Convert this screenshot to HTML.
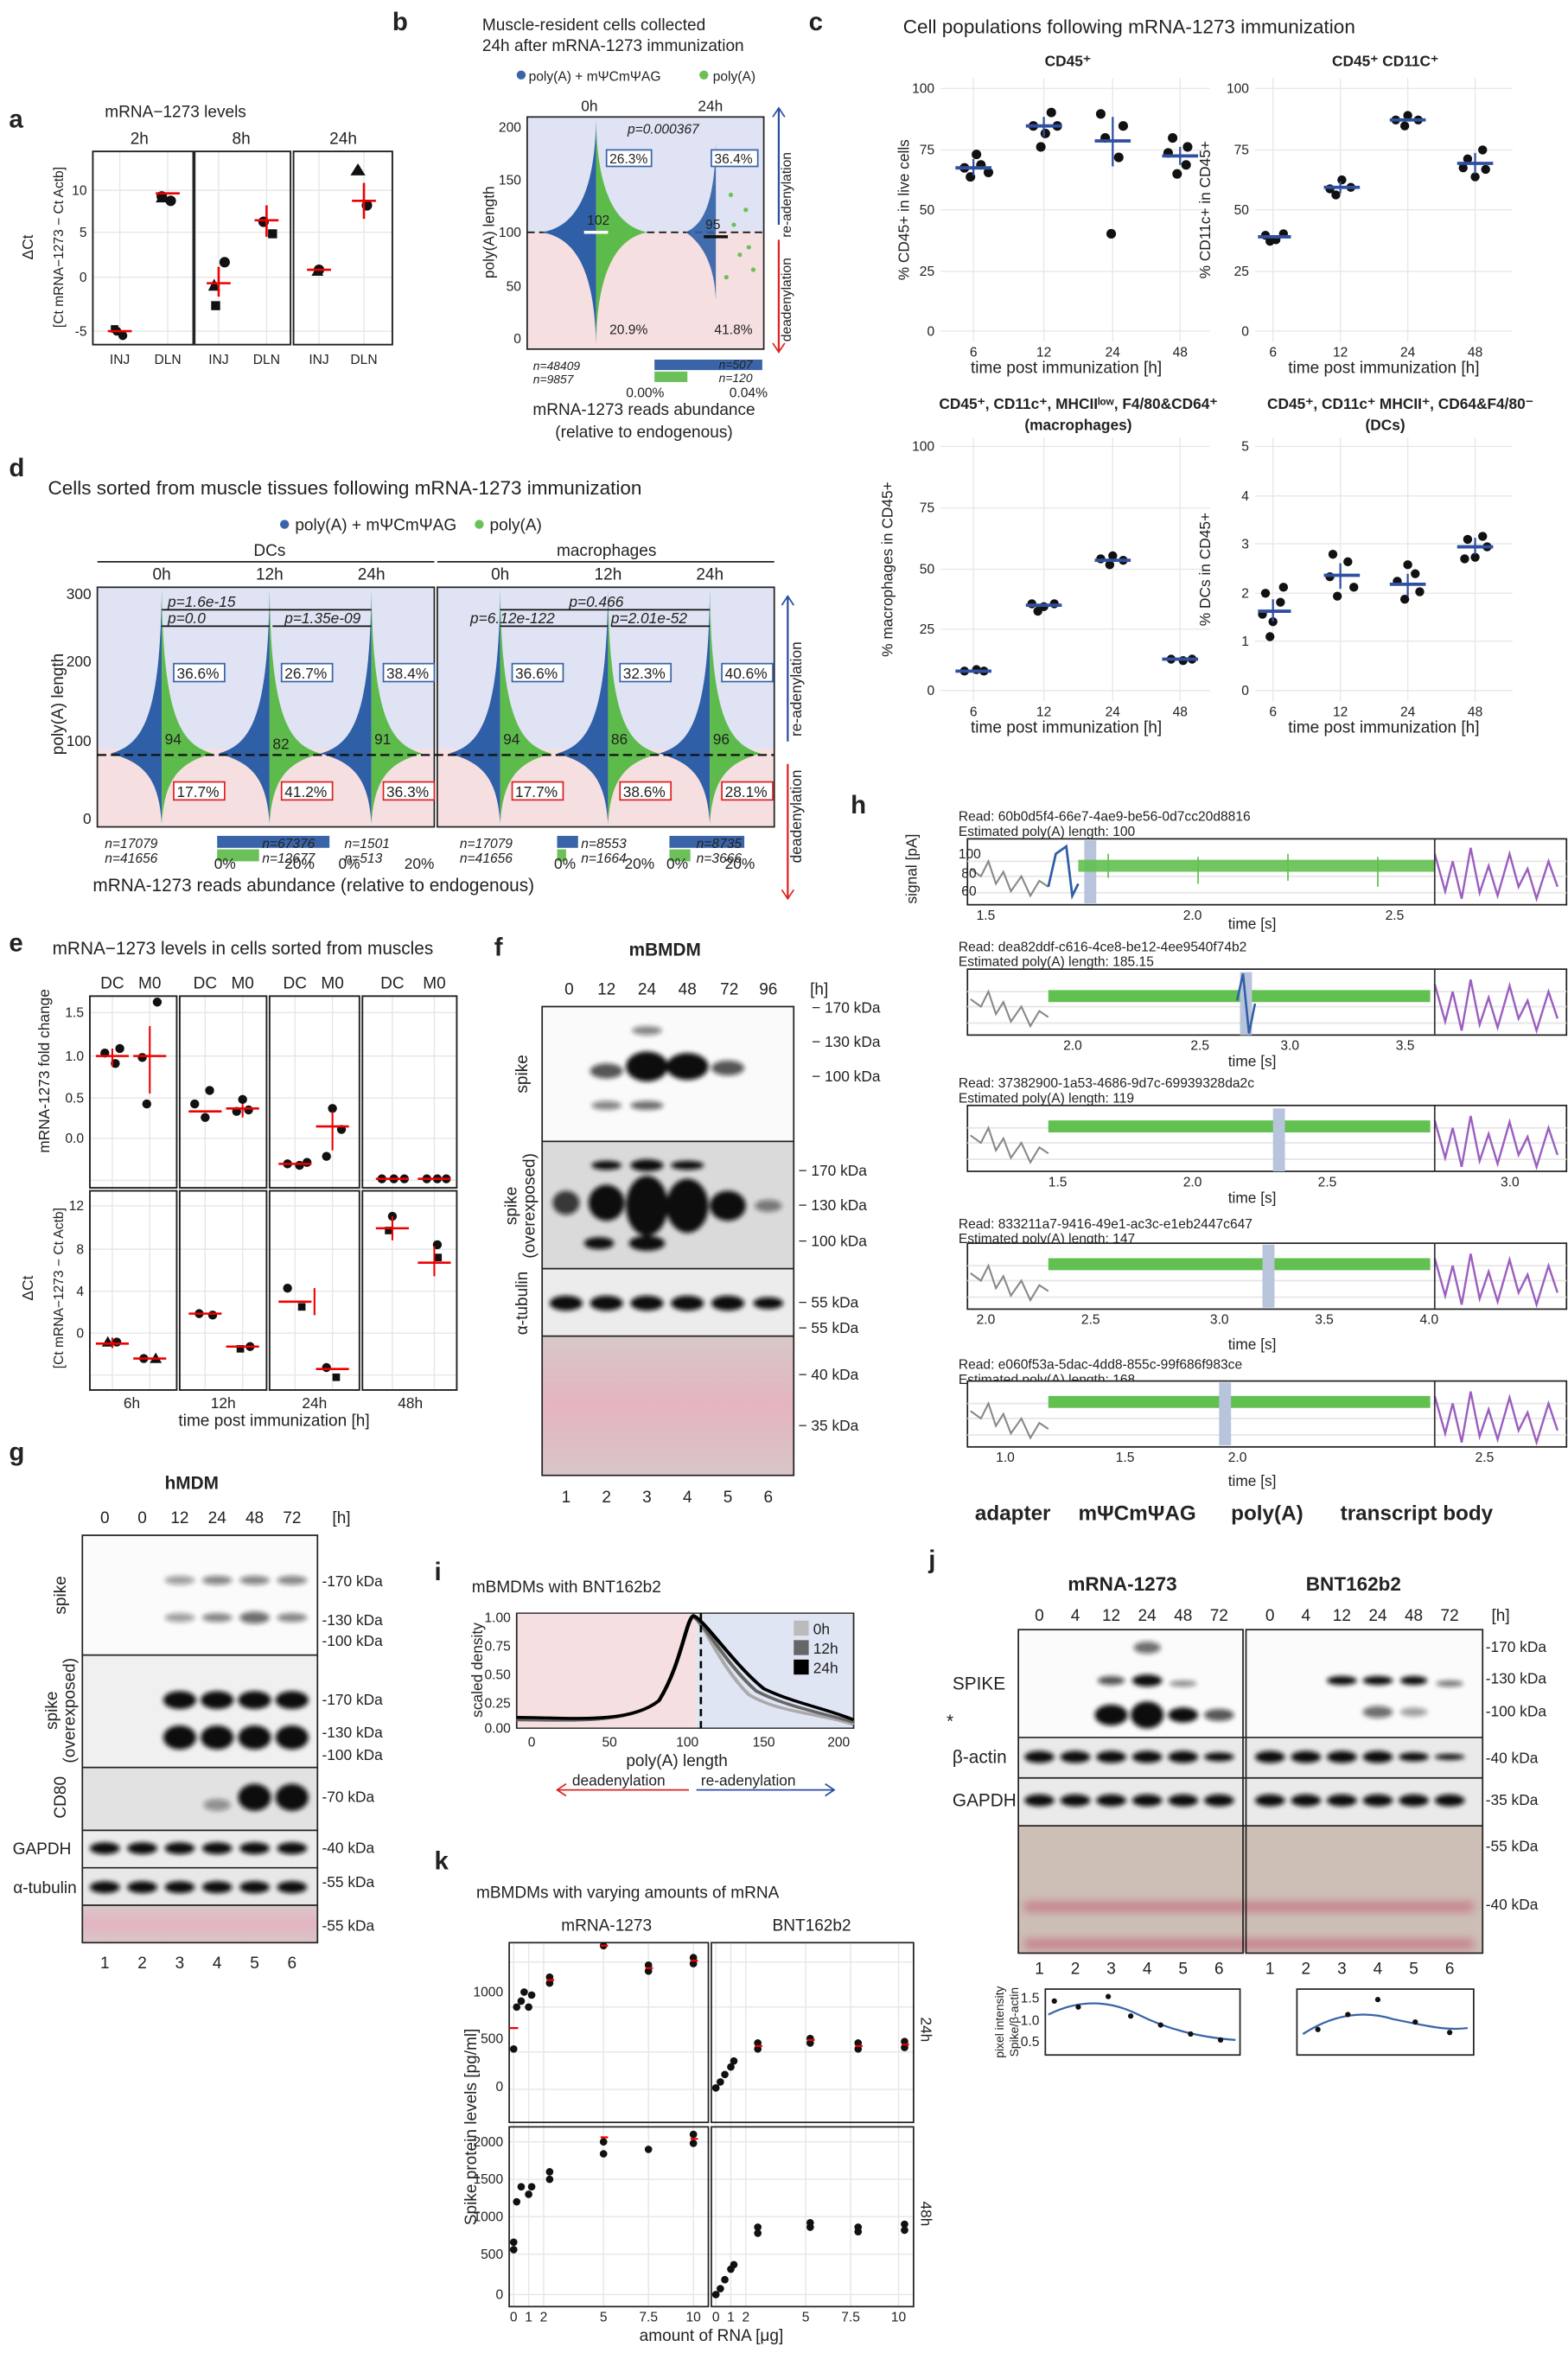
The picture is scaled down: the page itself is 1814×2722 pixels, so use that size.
<!DOCTYPE html>
<html><head><meta charset="utf-8"><style>
html,body{margin:0;padding:0;background:#fff}
svg text{font-family:"Liberation Sans",sans-serif;fill:#222}
</style></head><body>
<svg width="1814" height="2717" viewBox="0 0 1047 1568" xmlns="http://www.w3.org/2000/svg">
<defs>
<filter id="bl" x="-20%" y="-50%" width="140%" height="200%"><feGaussianBlur stdDeviation="1.6"/></filter>
<filter id="bl2" x="-20%" y="-50%" width="140%" height="200%"><feGaussianBlur stdDeviation="3"/></filter>
<linearGradient id="pk" x1="0" y1="0" x2="0" y2="1"><stop offset="0" stop-color="#d8c8c8"/><stop offset="0.5" stop-color="#e4b4c0"/><stop offset="1" stop-color="#d9c6c9"/></linearGradient>
</defs>
<rect width="1047" height="1568" fill="#fff"/>
<g font-weight="bold" font-size="17">
<text x="6" y="85">a</text><text x="262" y="20">b</text><text x="540" y="20">c</text><text x="6" y="318">d</text>
<text x="6" y="635">e</text><text x="330" y="638">f</text><text x="6" y="975">g</text><text x="568" y="543">h</text>
<text x="290" y="1055">i</text><text x="620" y="1047">j</text><text x="290" y="1248">k</text></g>

<!-- panel a -->
<text x="70" y="78" font-size="11">mRNA−1273 levels</text>
<g font-size="11"><text x="87" y="96">2h</text><text x="155" y="96">8h</text><text x="220" y="96">24h</text></g>
<g stroke="#e6e6e6" stroke-width="0.8"><line x1="62" y1="127" x2="262" y2="127"/><line x1="62" y1="155" x2="262" y2="155"/><line x1="62" y1="185" x2="262" y2="185"/><line x1="62" y1="221" x2="262" y2="221"/><line x1="80" y1="101" x2="80" y2="230"/><line x1="112" y1="101" x2="112" y2="230"/><line x1="146" y1="101" x2="146" y2="230"/><line x1="178" y1="101" x2="178" y2="230"/><line x1="213" y1="101" x2="213" y2="230"/><line x1="243" y1="101" x2="243" y2="230"/></g>
<g fill="none" stroke="#222" stroke-width="1.1"><rect x="62" y="101" width="67" height="129"/><rect x="130" y="101" width="64" height="129"/><rect x="196" y="101" width="66" height="129"/></g>
<g font-size="9" text-anchor="end"><text x="58" y="130">10</text><text x="58" y="158">5</text><text x="58" y="188">0</text><text x="58" y="224">-5</text></g>
<text x="22" y="165" font-size="10" transform="rotate(-90 22 165)" text-anchor="middle">ΔCt</text>
<text x="42" y="165" font-size="9" transform="rotate(-90 42 165)" text-anchor="middle">[Ct mRNA−1273 − Ct Actb]</text>
<g font-size="9" text-anchor="middle"><text x="80" y="243">INJ</text><text x="112" y="243">DLN</text><text x="146" y="243">INJ</text><text x="178" y="243">DLN</text><text x="213" y="243">INJ</text><text x="243" y="243">DLN</text></g>
<g fill="#111"><circle cx="78" cy="221" r="3"/><circle cx="82" cy="224" r="3"/><rect x="74" y="217" width="5" height="5"/><circle cx="108" cy="131" r="3.5"/><circle cx="114" cy="134" r="3.5"/><polygon points="104,135 108,128 112,135"/><circle cx="150" cy="175" r="3.5"/><polygon points="139,194 143,186 147,194"/><rect x="141" y="201" width="6" height="6"/><circle cx="176" cy="148" r="3.5"/><rect x="179" y="153" width="6" height="6"/><polygon points="234,117 239,109 244,117"/><circle cx="245" cy="137" r="3.5"/><circle cx="213" cy="180" r="3.5"/><polygon points="208,184 212,177 216,184"/></g>
<g stroke="#e00" stroke-width="1.5"><line x1="72" y1="221" x2="88" y2="221"/><line x1="104" y1="129" x2="120" y2="129"/><line x1="138" y1="189" x2="154" y2="189"/><line x1="170" y1="147" x2="186" y2="147"/><line x1="205" y1="180" x2="221" y2="180"/><line x1="235" y1="134" x2="251" y2="134"/><line x1="146" y1="178" x2="146" y2="198"/><line x1="178" y1="137" x2="178" y2="158"/><line x1="243" y1="122" x2="243" y2="146"/></g>

<!-- panel b -->
<text x="322" y="20" font-size="11">Muscle-resident cells collected</text>
<text x="322" y="34" font-size="11">24h after mRNA-1273 immunization</text>
<circle cx="348" cy="50" r="3" fill="#3a64a8"/><text x="353" y="54" font-size="9">poly(A) + mΨCmΨAG</text>
<circle cx="470" cy="50" r="3" fill="#6cc05a"/><text x="476" y="54" font-size="9">poly(A)</text>
<text x="388" y="74" font-size="10">0h</text><text x="466" y="74" font-size="10">24h</text>
<rect x="352" y="78" width="158" height="77" fill="#dfe3f3"/><rect x="352" y="155" width="158" height="78" fill="#f6dfe1"/>
<rect x="352" y="78" width="158" height="155" fill="none" stroke="#222"/>
<line x1="352" y1="155" x2="510" y2="155" stroke="#111" stroke-dasharray="5,3"/>
<path d="M398,80 C397,140 378,152 362,155 C378,158 397,170 398,230 Z" fill="#2f5fa6"/>
<path d="M398,80 C399,140 418,152 432,155 C418,158 399,170 398,230 Z" fill="#5dbb4b"/>
<path d="M478,95 C477,140 468,150 458,155 C468,162 477,175 478,200 Z" fill="#2f5fa6" opacity="0.9"/>
<g fill="#6cc05a"><circle cx="490" cy="150" r="1.5"/><circle cx="494" cy="170" r="1.5"/><circle cx="485" cy="185" r="1.5"/><circle cx="500" cy="165" r="1.5"/><circle cx="488" cy="130" r="1.5"/><circle cx="498" cy="140" r="1.5"/><circle cx="503" cy="180" r="1.5"/></g>
<line x1="390" y1="155" x2="406" y2="155" stroke="#fff" stroke-width="2"/><line x1="470" y1="158" x2="486" y2="158" stroke="#111" stroke-width="2"/>
<g font-size="9" fill="#333"><text x="392" y="150" fill="#fff">102</text><text x="471" y="153">95</text></g>
<text x="419" y="89" font-size="9" font-style="italic">p=0.000367</text>
<g font-size="9"><rect x="405" y="100" width="30" height="11" fill="#fff" stroke="#3a64a8"/><text x="407" y="109" fill="#3a64a8">26.3%</text><rect x="475" y="100" width="31" height="11" fill="#fff" stroke="#3a64a8"/><text x="477" y="109" fill="#3a64a8">36.4%</text>
<text x="407" y="223" fill="#d22">20.9%</text><text x="477" y="223" fill="#d22">41.8%</text></g>
<g font-size="9" text-anchor="end"><text x="348" y="88">200</text><text x="348" y="123">150</text><text x="348" y="158">100</text><text x="348" y="194">50</text><text x="348" y="229">0</text></g>
<text x="330" y="155" font-size="10" transform="rotate(-90 330 155)" text-anchor="middle">poly(A) length</text>
<line x1="520" y1="150" x2="520" y2="72" stroke="#2a4fa0" stroke-width="1.3"/><polyline points="516,78 520,72 524,78" fill="none" stroke="#2a4fa0"/>
<text x="528" y="130" font-size="9" fill="#2a4fa0" transform="rotate(-90 528 130)" text-anchor="middle">re-adenylation</text>
<line x1="520" y1="160" x2="520" y2="235" stroke="#d22" stroke-width="1.3"/><polyline points="516,229 520,235 524,229" fill="none" stroke="#d22"/>
<text x="528" y="200" font-size="9" fill="#d22" transform="rotate(-90 528 200)" text-anchor="middle">deadenylation</text>
<g font-size="8" font-style="italic"><text x="356" y="247">n=48409</text><text x="356" y="256">n=9857</text></g>
<rect x="437" y="240" width="72" height="7" fill="#3a64a8"/><rect x="437" y="248" width="22" height="7" fill="#6cc05a"/>
<g font-size="8" font-style="italic"><text x="480" y="246" fill="#fff">n=507</text><text x="480" y="255">n=120</text></g>
<g font-size="9"><text x="418" y="265">0.00%</text><text x="487" y="265">0.04%</text></g>
<text x="430" y="277" font-size="11" text-anchor="middle">mRNA-1273 reads abundance</text>
<text x="430" y="292" font-size="11" text-anchor="middle">(relative to endogenous)</text>

<!-- panel c -->
<text x="603" y="22" font-size="13">Cell populations following mRNA-1273 immunization</text>
<g font-size="10" font-weight="bold" text-anchor="middle"><text x="713" y="44">CD45⁺</text><text x="925" y="44">CD45⁺ CD11C⁺</text>
<text x="720" y="273">CD45⁺, CD11c⁺, MHCIIˡᵒʷ, F4/80&amp;CD64⁺</text><text x="720" y="287">(macrophages)</text>
<text x="935" y="273">CD45⁺, CD11c⁺ MHCII⁺, CD64&amp;F4/80⁻</text><text x="925" y="287">(DCs)</text></g>
<g stroke="#e8e8e8" stroke-width="0.8">
<path d="M628,59H808M628,100H808M628,140H808M628,181H808M628,221H808M650,52V228M697,52V228M743,52V228M788,52V228"/>
<path d="M838,59H1010M838,100H1010M838,140H1010M838,181H1010M838,221H1010M850,52V228M895,52V228M940,52V228M985,52V228"/>
<path d="M628,298H808M628,339H808M628,380H808M628,420H808M628,461H808M650,292V468M697,292V468M743,292V468M788,292V468"/>
<path d="M838,298H1010M838,331H1010M838,363H1010M838,396H1010M838,428H1010M838,461H1010M850,292V468M895,292V468M940,292V468M985,292V468"/></g>
<g font-size="9" text-anchor="end"><text x="624" y="62">100</text><text x="624" y="103">75</text><text x="624" y="143">50</text><text x="624" y="184">25</text><text x="624" y="224">0</text>
<text x="834" y="62">100</text><text x="834" y="103">75</text><text x="834" y="143">50</text><text x="834" y="184">25</text><text x="834" y="224">0</text>
<text x="624" y="301">100</text><text x="624" y="342">75</text><text x="624" y="383">50</text><text x="624" y="423">25</text><text x="624" y="464">0</text>
<text x="834" y="301">5</text><text x="834" y="334">4</text><text x="834" y="366">3</text><text x="834" y="399">2</text><text x="834" y="431">1</text><text x="834" y="464">0</text></g>
<g font-size="9" text-anchor="middle"><text x="650" y="238">6</text><text x="697" y="238">12</text><text x="743" y="238">24</text><text x="788" y="238">48</text>
<text x="850" y="238">6</text><text x="895" y="238">12</text><text x="940" y="238">24</text><text x="985" y="238">48</text>
<text x="650" y="478">6</text><text x="697" y="478">12</text><text x="743" y="478">24</text><text x="788" y="478">48</text>
<text x="850" y="478">6</text><text x="895" y="478">12</text><text x="940" y="478">24</text><text x="985" y="478">48</text></g>
<g font-size="11" text-anchor="middle"><text x="712" y="249">time post immunization [h]</text><text x="924" y="249">time post immunization [h]</text><text x="712" y="489">time post immunization [h]</text><text x="924" y="489">time post immunization [h]</text></g>
<g font-size="10" text-anchor="middle"><text transform="translate(607,140) rotate(-90)">% CD45+ in live cells</text><text transform="translate(808,140) rotate(-90)">% CD11c+ in CD45+</text><text transform="translate(596,380) rotate(-90)">% macrophages in CD45+</text><text transform="translate(808,380) rotate(-90)">% DCs in CD45+</text></g>
<g fill="#111">
<circle cx="644" cy="112" r="3.2"/><circle cx="655" cy="110" r="3.2"/><circle cx="648" cy="118" r="3.2"/><circle cx="652" cy="103" r="3.2"/><circle cx="660" cy="115" r="3.2"/>
<circle cx="690" cy="84" r="3.2"/><circle cx="702" cy="75" r="3.2"/><circle cx="695" cy="98" r="3.2"/><circle cx="706" cy="84" r="3.2"/><circle cx="698" cy="89" r="3.2"/>
<circle cx="735" cy="76" r="3.2"/><circle cx="750" cy="84" r="3.2"/><circle cx="742" cy="156" r="3.2"/><circle cx="747" cy="105" r="3.2"/><circle cx="738" cy="92" r="3.2"/>
<circle cx="780" cy="102" r="3.2"/><circle cx="793" cy="98" r="3.2"/><circle cx="786" cy="116" r="3.2"/><circle cx="783" cy="92" r="3.2"/><circle cx="792" cy="110" r="3.2"/>
<circle cx="845" cy="157" r="3"/><circle cx="852" cy="160" r="3"/><circle cx="857" cy="156" r="3"/><circle cx="848" cy="161" r="3"/>
<circle cx="888" cy="126" r="3"/><circle cx="896" cy="120" r="3"/><circle cx="902" cy="125" r="3"/><circle cx="892" cy="130" r="3"/>
<circle cx="932" cy="80" r="3"/><circle cx="940" cy="77" r="3"/><circle cx="947" cy="80" r="3"/><circle cx="938" cy="84" r="3"/>
<circle cx="980" cy="106" r="3"/><circle cx="990" cy="100" r="3"/><circle cx="985" cy="118" r="3"/><circle cx="977" cy="112" r="3"/><circle cx="992" cy="113" r="3"/>
<circle cx="644" cy="448" r="3"/><circle cx="652" cy="447" r="3"/><circle cx="657" cy="448" r="3"/>
<circle cx="689" cy="403" r="3"/><circle cx="697" cy="405" r="3"/><circle cx="704" cy="403" r="3"/><circle cx="693" cy="408" r="3"/>
<circle cx="735" cy="373" r="3"/><circle cx="743" cy="371" r="3"/><circle cx="750" cy="374" r="3"/><circle cx="741" cy="377" r="3"/>
<circle cx="782" cy="440" r="3"/><circle cx="790" cy="441" r="3"/><circle cx="796" cy="440" r="3"/>
<circle cx="845" cy="396" r="3"/><circle cx="855" cy="402" r="3"/><circle cx="850" cy="415" r="3"/><circle cx="843" cy="410" r="3"/><circle cx="857" cy="392" r="3"/><circle cx="848" cy="425" r="3"/>
<circle cx="888" cy="385" r="3"/><circle cx="900" cy="375" r="3"/><circle cx="893" cy="398" r="3"/><circle cx="904" cy="392" r="3"/><circle cx="890" cy="370" r="3"/>
<circle cx="933" cy="388" r="3"/><circle cx="945" cy="383" r="3"/><circle cx="938" cy="400" r="3"/><circle cx="948" cy="395" r="3"/><circle cx="940" cy="377" r="3"/>
<circle cx="978" cy="373" r="3"/><circle cx="990" cy="358" r="3"/><circle cx="985" cy="372" r="3"/><circle cx="993" cy="365" r="3"/><circle cx="980" cy="360" r="3"/></g>
<g stroke="#2f4fa0" stroke-width="2.2">
<path d="M638,112H662M685,84H709M731,94H755M776,104H800M840,158H862M884,125H908M928,80H952M973,109H997"/>
<path d="M638,448H662M685,404H709M731,374H755M776,440H800M840,408H862M884,384H908M928,390H952M973,365H997"/>
<path d="M650,106V117M697,78V91M743,78V111M788,98V110M895,121V129M985,102V116M850,400V415M895,376V393M940,383V398M985,359V370" stroke-width="1.3"/></g>

<!-- panel d -->
<text x="32" y="330" font-size="13">Cells sorted from muscle tissues following mRNA-1273 immunization</text>
<circle cx="190" cy="350" r="3" fill="#3a64a8"/><text x="197" y="354" font-size="11">poly(A) + mΨCmΨAG</text>
<circle cx="320" cy="350" r="3" fill="#6cc05a"/><text x="327" y="354" font-size="11">poly(A)</text>
<g font-size="11" text-anchor="middle"><text x="180" y="371">DCs</text><text x="405" y="371">macrophages</text>
<text x="108" y="387">0h</text><text x="180" y="387">12h</text><text x="248" y="387">24h</text><text x="334" y="387">0h</text><text x="406" y="387">12h</text><text x="474" y="387">24h</text></g>
<line x1="65" y1="375" x2="290" y2="375" stroke="#222"/><line x1="292" y1="375" x2="517" y2="375" stroke="#222"/>
<rect x="65" y="392" width="225" height="108" fill="#dfe3f3"/><rect x="65" y="500" width="225" height="52" fill="#f6dfe1"/>
<rect x="292" y="392" width="225" height="108" fill="#dfe3f3"/><rect x="292" y="500" width="225" height="52" fill="#f6dfe1"/>
<rect x="65" y="392" width="225" height="160" fill="none" stroke="#222"/><rect x="292" y="392" width="225" height="160" fill="none" stroke="#222"/>
<g id="vd">
<path d="M108,393 C107,480 95,497 74,503 C95,509 106,518 108,550 Z" fill="#2f5fa6"/><path d="M108,393 C109,480 121,497 142,503 C121,509 110,518 108,550 Z" fill="#5dbb4b"/>
<path d="M180,393 C179,480 167,497 146,503 C167,509 178,518 180,550 Z" fill="#2f5fa6"/><path d="M180,393 C181,480 193,497 214,503 C193,509 182,518 180,550 Z" fill="#5dbb4b"/>
<path d="M248,393 C247,480 235,497 214,503 C235,509 246,518 248,550 Z" fill="#2f5fa6"/><path d="M248,393 C249,480 261,497 282,503 C261,509 250,518 248,550 Z" fill="#5dbb4b"/></g>
<use href="#vd" x="226"/>
<line x1="65" y1="504" x2="517" y2="504" stroke="#111" stroke-dasharray="6,3" stroke-width="1.3"/>
<g font-size="10" fill="#fff"><text x="110" y="497" fill="#fff">94</text><text x="182" y="500">82</text><text x="250" y="497">91</text><text x="336" y="497">94</text><text x="408" y="497">86</text><text x="476" y="497">96</text></g>
<g font-size="10" font-style="italic"><text x="112" y="405">p=1.6e-15</text><text x="112" y="416">p=0.0</text><text x="190" y="416">p=1.35e-09</text><text x="380" y="405">p=0.466</text><text x="314" y="416">p=6.12e-122</text><text x="408" y="416">p=2.01e-52</text></g>
<g stroke="#111" fill="none"><path d="M108,407H248M108,418H180M182,418H248M334,407H474M334,418H406M408,418H474"/></g>
<g font-size="10"><g fill="#fff" stroke="#3a64a8"><rect x="116" y="443" width="34" height="12"/><rect x="188" y="443" width="34" height="12"/><rect x="256" y="443" width="34" height="12"/><rect x="342" y="443" width="34" height="12"/><rect x="414" y="443" width="34" height="12"/><rect x="482" y="443" width="34" height="12"/></g>
<g fill="#3a64a8"><text x="118" y="453">36.6%</text><text x="190" y="453">26.7%</text><text x="258" y="453">38.4%</text><text x="344" y="453">36.6%</text><text x="416" y="453">32.3%</text><text x="484" y="453">40.6%</text></g>
<g fill="#fff" stroke="#d22"><rect x="116" y="522" width="34" height="12"/><rect x="188" y="522" width="34" height="12"/><rect x="256" y="522" width="34" height="12"/><rect x="342" y="522" width="34" height="12"/><rect x="414" y="522" width="34" height="12"/><rect x="482" y="522" width="34" height="12"/></g>
<g fill="#d22"><text x="118" y="532">17.7%</text><text x="190" y="532">41.2%</text><text x="258" y="532">36.3%</text><text x="344" y="532">17.7%</text><text x="416" y="532">38.6%</text><text x="484" y="532">28.1%</text></g></g>
<g font-size="10" text-anchor="end"><text x="61" y="400">300</text><text x="61" y="445">200</text><text x="61" y="498">100</text><text x="61" y="550">0</text></g>
<text transform="translate(42,470) rotate(-90)" font-size="11" text-anchor="middle">poly(A) length</text>
<line x1="526" y1="495" x2="526" y2="398" stroke="#2a4fa0" stroke-width="1.3"/><polyline points="522,404 526,398 530,404" fill="none" stroke="#2a4fa0"/>
<text transform="translate(535,460) rotate(-90)" font-size="10" fill="#2a4fa0" text-anchor="middle">re-adenylation</text>
<line x1="526" y1="510" x2="526" y2="600" stroke="#d22" stroke-width="1.3"/><polyline points="522,594 526,600 530,594" fill="none" stroke="#d22"/>
<text transform="translate(535,545) rotate(-90)" font-size="10" fill="#d22" text-anchor="middle">deadenylation</text>
<g font-size="9" font-style="italic"><text x="70" y="566">n=17079</text><text x="70" y="576">n=41656</text><text x="307" y="566">n=17079</text><text x="307" y="576">n=41656</text><text x="230" y="566">n=1501</text><text x="230" y="576">n=513</text></g>
<g><rect x="145" y="558" width="75" height="8" fill="#3a64a8"/><rect x="145" y="567" width="28" height="8" fill="#6cc05a"/><rect x="372" y="558" width="14" height="8" fill="#3a64a8"/><rect x="372" y="567" width="6" height="8" fill="#6cc05a"/><rect x="447" y="558" width="50" height="8" fill="#3a64a8"/><rect x="447" y="567" width="14" height="8" fill="#6cc05a"/></g>
<g font-size="9" font-style="italic"><text x="175" y="566" fill="#fff">n=67376</text><text x="175" y="576">n=12677</text><text x="388" y="566">n=8553</text><text x="388" y="576">n=1664</text><text x="465" y="566">n=8735</text><text x="465" y="576">n=3666</text></g>
<g font-size="10"><text x="143" y="580">0%</text><text x="190" y="580">20%</text><text x="226" y="580">0%</text><text x="270" y="580">20%</text><text x="370" y="580">0%</text><text x="417" y="580">20%</text><text x="445" y="580">0%</text><text x="484" y="580">20%</text></g>
<text x="62" y="595" font-size="12">mRNA-1273 reads abundance (relative to endogenous)</text>

<!-- panel e -->
<text x="35" y="637" font-size="12">mRNA−1273 levels in cells sorted from muscles</text>
<g font-size="11" text-anchor="middle"><text x="75" y="660">DC</text><text x="100" y="660">M0</text><text x="137" y="660">DC</text><text x="162" y="660">M0</text><text x="197" y="660">DC</text><text x="222" y="660">M0</text><text x="262" y="660">DC</text><text x="290" y="660">M0</text></g>
<g stroke="#e6e6e6" stroke-width="0.8"><path d="M60,676H305M60,705H305M60,733H305M60,760H305M60,788H305M60,805H305M60,834H305M60,862H305M60,890H305M60,918H305M75,665V928M100,665V928M137,665V928M162,665V928M197,665V928M222,665V928M262,665V928M290,665V928"/></g>
<g fill="none" stroke="#222" stroke-width="1.1"><rect x="60" y="665" width="58" height="128"/><rect x="120" y="665" width="58" height="128"/><rect x="180" y="665" width="60" height="128"/><rect x="242" y="665" width="63" height="128"/>
<rect x="60" y="795" width="58" height="133"/><rect x="120" y="795" width="58" height="133"/><rect x="180" y="795" width="60" height="133"/><rect x="242" y="795" width="63" height="133"/></g>
<g font-size="9" text-anchor="end"><text x="56" y="679">1.5</text><text x="56" y="708">1.0</text><text x="56" y="736">0.5</text><text x="56" y="763">0.0</text>
<text x="56" y="808">12</text><text x="56" y="837">8</text><text x="56" y="865">4</text><text x="56" y="893">0</text></g>
<text transform="translate(33,715) rotate(-90)" font-size="10" text-anchor="middle">mRNA-1273 fold change</text>
<text transform="translate(22,860) rotate(-90)" font-size="10" text-anchor="middle">ΔCt</text>
<text transform="translate(42,860) rotate(-90)" font-size="9" text-anchor="middle">[Ct mRNA−1273 − Ct Actb]</text>
<g font-size="10" text-anchor="middle"><text x="88" y="940">6h</text><text x="149" y="940">12h</text><text x="210" y="940">24h</text><text x="274" y="940">48h</text></g>
<text x="183" y="952" font-size="11" text-anchor="middle">time post immunization [h]</text>
<g fill="#111"><circle cx="70" cy="703" r="3"/><circle cx="80" cy="700" r="3"/><circle cx="77" cy="710" r="3"/><circle cx="105" cy="669" r="3"/><circle cx="98" cy="737" r="3"/><circle cx="95" cy="706" r="3"/>
<circle cx="130" cy="737" r="3"/><circle cx="140" cy="728" r="3"/><circle cx="137" cy="746" r="3"/><circle cx="158" cy="742" r="3"/><circle cx="166" cy="741" r="3"/><circle cx="162" cy="734" r="3"/>
<circle cx="192" cy="777" r="3"/><circle cx="200" cy="778" r="3"/><circle cx="205" cy="776" r="3"/><circle cx="222" cy="740" r="3"/><circle cx="228" cy="754" r="3"/><circle cx="218" cy="772" r="3"/>
<circle cx="255" cy="787" r="3"/><circle cx="263" cy="787" r="3"/><circle cx="270" cy="787" r="3"/><circle cx="285" cy="787" r="3"/><circle cx="292" cy="787" r="3"/><circle cx="298" cy="787" r="3"/>
<polygon points="68,899 72,892 76,899"/><circle cx="78" cy="896" r="3"/><polygon points="100,910 104,903 108,910"/><circle cx="96" cy="907" r="3"/>
<circle cx="133" cy="877" r="3"/><circle cx="142" cy="878" r="3"/><rect x="158" y="898" width="5" height="5"/><circle cx="167" cy="899" r="3"/>
<circle cx="192" cy="860" r="3"/><rect x="199" y="870" width="5" height="5"/><circle cx="218" cy="913" r="3"/><rect x="222" y="917" width="5" height="5"/>
<circle cx="262" cy="812" r="3"/><rect x="257" y="819" width="5" height="5"/><circle cx="292" cy="831" r="3"/><rect x="290" y="837" width="5" height="5"/></g>
<g stroke="#e00" stroke-width="1.5"><path d="M64,705H86M89,705H111M126,742H148M151,740H173M186,777H208M211,752H233M251,787H273M279,787H301M64,897H86M89,907H111M126,877H148M151,899H173M186,869H208M211,914H233M251,820H273M279,843H301"/><path d="M75,700V712M100,685V730M162,737V746M222,742V768M75,893V900M210,860V878M262,812V828M290,832V852" stroke-width="1.2"/></g>

<!-- panel f -->
<text x="420" y="638" font-size="12" font-weight="bold">mBMDM</text>
<g font-size="11" text-anchor="middle"><text x="380" y="664">0</text><text x="405" y="664">12</text><text x="432" y="664">24</text><text x="459" y="664">48</text><text x="487" y="664">72</text><text x="513" y="664">96</text><text x="547" y="664">[h]</text></g>
<rect x="362" y="672" width="168" height="90" fill="#fafafa"/><rect x="362" y="762" width="168" height="85" fill="#dadada"/><rect x="362" y="847" width="168" height="45" fill="#ececec"/><rect x="362" y="892" width="168" height="93" fill="url(#pk)"/>
<g fill="#111" filter="url(#bl)">
<ellipse cx="405" cy="715" rx="11" ry="5" opacity="0.7"/><ellipse cx="432" cy="712" rx="14" ry="10"/><ellipse cx="459" cy="712" rx="14" ry="9"/><ellipse cx="486" cy="713" rx="11" ry="5" opacity="0.7"/><ellipse cx="432" cy="688" rx="10" ry="3" opacity="0.5"/><ellipse cx="405" cy="738" rx="10" ry="3" opacity="0.5"/><ellipse cx="432" cy="738" rx="11" ry="3" opacity="0.6"/>
<ellipse cx="378" cy="803" rx="9" ry="8" opacity="0.8"/><ellipse cx="405" cy="803" rx="12" ry="12"/><ellipse cx="432" cy="805" rx="14" ry="20"/><ellipse cx="459" cy="805" rx="14" ry="18"/><ellipse cx="486" cy="805" rx="12" ry="10"/><ellipse cx="513" cy="805" rx="9" ry="4" opacity="0.5"/><ellipse cx="405" cy="778" rx="10" ry="3"/><ellipse cx="432" cy="778" rx="11" ry="4"/><ellipse cx="459" cy="778" rx="11" ry="3"/><ellipse cx="400" cy="830" rx="10" ry="4"/><ellipse cx="432" cy="830" rx="12" ry="5"/>
<ellipse cx="378" cy="870" rx="11" ry="5"/><ellipse cx="405" cy="870" rx="11" ry="5"/><ellipse cx="432" cy="870" rx="11" ry="5"/><ellipse cx="459" cy="870" rx="11" ry="5"/><ellipse cx="486" cy="870" rx="11" ry="5"/><ellipse cx="513" cy="870" rx="10" ry="4"/></g>
<g stroke="#222" fill="none"><rect x="362" y="672" width="168" height="313"/><path d="M362,762H530M362,847H530M362,892H530"/></g>
<g font-size="10"><text x="542" y="676">− 170 kDa</text><text x="542" y="699">− 130 kDa</text><text x="542" y="722">− 100 kDa</text><text x="533" y="785">− 170 kDa</text><text x="533" y="808">− 130 kDa</text><text x="533" y="832">− 100 kDa</text><text x="533" y="873">− 55 kDa</text><text x="533" y="890">− 55 kDa</text><text x="533" y="921">− 40 kDa</text><text x="533" y="955">− 35 kDa</text></g>
<g font-size="11" text-anchor="middle"><text transform="translate(352,717) rotate(-90)">spike</text><text transform="translate(345,805) rotate(-90)">spike</text><text transform="translate(357,805) rotate(-90)">(overexposed)</text><text transform="translate(352,870) rotate(-90)">α-tubulin</text>
<text x="378" y="1003">1</text><text x="405" y="1003">2</text><text x="432" y="1003">3</text><text x="459" y="1003">4</text><text x="486" y="1003">5</text><text x="513" y="1003">6</text></g>

<!-- panel g -->
<text x="110" y="994" font-size="12" font-weight="bold">hMDM</text>
<g font-size="11" text-anchor="middle"><text x="70" y="1017">0</text><text x="95" y="1017">0</text><text x="120" y="1017">12</text><text x="145" y="1017">24</text><text x="170" y="1017">48</text><text x="195" y="1017">72</text><text x="228" y="1017">[h]</text></g>
<rect x="55" y="1025" width="157" height="80" fill="#fbfbfb"/><rect x="55" y="1105" width="157" height="75" fill="#f0f0f0"/><rect x="55" y="1180" width="157" height="42" fill="#e2e2e2"/><rect x="55" y="1222" width="157" height="25" fill="#ececec"/><rect x="55" y="1247" width="157" height="25" fill="#e8e8e8"/><rect x="55" y="1272" width="157" height="25" fill="url(#pk)"/>
<g fill="#111" filter="url(#bl)">
<ellipse cx="120" cy="1055" rx="10" ry="3" opacity="0.4"/><ellipse cx="145" cy="1055" rx="10" ry="3" opacity="0.5"/><ellipse cx="170" cy="1055" rx="10" ry="3" opacity="0.5"/><ellipse cx="195" cy="1055" rx="10" ry="3" opacity="0.5"/>
<ellipse cx="120" cy="1080" rx="10" ry="3" opacity="0.4"/><ellipse cx="145" cy="1080" rx="10" ry="3" opacity="0.5"/><ellipse cx="170" cy="1080" rx="10" ry="4" opacity="0.6"/><ellipse cx="195" cy="1080" rx="10" ry="3" opacity="0.5"/>
<ellipse cx="120" cy="1135" rx="11" ry="6"/><ellipse cx="145" cy="1135" rx="11" ry="6"/><ellipse cx="170" cy="1135" rx="11" ry="6"/><ellipse cx="195" cy="1135" rx="11" ry="6"/>
<ellipse cx="120" cy="1160" rx="11" ry="8"/><ellipse cx="145" cy="1160" rx="11" ry="8"/><ellipse cx="170" cy="1160" rx="11" ry="8"/><ellipse cx="195" cy="1160" rx="11" ry="8"/>
<ellipse cx="170" cy="1200" rx="11" ry="9"/><ellipse cx="195" cy="1200" rx="11" ry="9"/><ellipse cx="145" cy="1205" rx="9" ry="4" opacity="0.4"/>
<ellipse cx="70" cy="1234" rx="10" ry="4"/><ellipse cx="95" cy="1234" rx="10" ry="4"/><ellipse cx="120" cy="1234" rx="10" ry="4"/><ellipse cx="145" cy="1234" rx="10" ry="4"/><ellipse cx="170" cy="1234" rx="10" ry="4"/><ellipse cx="195" cy="1234" rx="10" ry="4"/>
<ellipse cx="70" cy="1260" rx="10" ry="4"/><ellipse cx="95" cy="1260" rx="10" ry="4"/><ellipse cx="120" cy="1260" rx="10" ry="4"/><ellipse cx="145" cy="1260" rx="10" ry="4"/><ellipse cx="170" cy="1260" rx="10" ry="4"/><ellipse cx="195" cy="1260" rx="10" ry="4"/></g>
<g stroke="#222" fill="none"><rect x="55" y="1025" width="157" height="272"/><path d="M55,1105H212M55,1180H212M55,1222H212M55,1247H212M55,1272H212"/></g>
<g font-size="10"><text x="215" y="1059">-170 kDa</text><text x="215" y="1085">-130 kDa</text><text x="215" y="1099">-100 kDa</text><text x="215" y="1138">-170 kDa</text><text x="215" y="1160">-130 kDa</text><text x="215" y="1175">-100 kDa</text><text x="215" y="1203">-70 kDa</text><text x="215" y="1237">-40 kDa</text><text x="215" y="1260">-55 kDa</text><text x="215" y="1289">-55 kDa</text></g>
<g font-size="11" text-anchor="middle"><text transform="translate(44,1065) rotate(-90)">spike</text><text transform="translate(38,1142) rotate(-90)">spike</text><text transform="translate(50,1142) rotate(-90)">(overexposed)</text><text transform="translate(44,1200) rotate(-90)">CD80</text>
<text x="28" y="1238">GAPDH</text><text x="30" y="1264">α-tubulin</text>
<text x="70" y="1314">1</text><text x="95" y="1314">2</text><text x="120" y="1314">3</text><text x="145" y="1314">4</text><text x="170" y="1314">5</text><text x="195" y="1314">6</text></g>

<!-- panel h -->
<g font-size="9">
<text x="640" y="548">Read: 60b0d5f4-66e7-4ae9-be56-0d7cc20d8816</text><text x="640" y="558">Estimated poly(A) length: 100</text>
<text x="640" y="635">Read: dea82ddf-c616-4ce8-be12-4ee9540f74b2</text><text x="640" y="645">Estimated poly(A) length: 185.15</text>
<text x="640" y="726">Read: 37382900-1a53-4686-9d7c-69939328da2c</text><text x="640" y="736">Estimated poly(A) length: 119</text>
<text x="640" y="820">Read: 833211a7-9416-49e1-ac3c-e1eb2447c647</text><text x="640" y="830">Estimated poly(A) length: 147</text>
<text x="640" y="914">Read: e060f53a-5dac-4dd8-855c-99f686f983ce</text><text x="640" y="924">Estimated poly(A) length: 168</text></g>
<g id="tr">
<rect x="646" y="560" width="400" height="44" fill="#fff" stroke="#222"/>
<path d="M646,575H1046M646,585H1046M646,596H1046" stroke="#e5e5e5"/>
<polyline points="648,580 655,585 660,575 665,590 670,582 675,595 682,585 688,598 694,588 700,592" fill="none" stroke="#888" stroke-width="1.2"/>
</g>
<polyline points="700,592 705,570 712,565 716,598 720,590" fill="none" stroke="#2f5fa6" stroke-width="1.6"/>
<rect x="724" y="561" width="8" height="42" fill="#b8c3dc"/>
<path d="M720,578 L958,578" stroke="#62c050" stroke-width="8" opacity="0.9"/>
<path d="M740,570 L740,586 M800,572 L800,590 M860,570 L860,588 M920,572 L920,592" stroke="#62c050"/>
<polyline points="958,570 965,595 970,575 976,600 982,566 988,596 994,578 1000,598 1008,570 1014,592 1020,580 1026,600 1034,575 1040,592" fill="none" stroke="#9b5fc0" stroke-width="1.4"/>
<line x1="958" y1="560" x2="958" y2="604" stroke="#333"/>
<g font-size="9"><text x="652" y="614">1.5</text><text x="790" y="614">2.0</text><text x="925" y="614">2.5</text><text x="820" y="620" font-size="10">time [s]</text>
<text x="640" y="573" font-size="9">100</text><text x="642" y="586">80</text><text x="642" y="598">60</text></g>
<text transform="translate(612,580) rotate(-90)" font-size="10" text-anchor="middle">signal [pA]</text>
<use href="#tr" y="87"/><use href="#tr" y="178"/><use href="#tr" y="270"/><use href="#tr" y="362"/>
<path d="M700,665 L955,665" stroke="#62c050" stroke-width="8"/><path d="M700,752 L955,752" stroke="#62c050" stroke-width="8"/><path d="M700,844 L955,844" stroke="#62c050" stroke-width="8"/><path d="M700,936 L955,936" stroke="#62c050" stroke-width="8"/>
<rect x="828" y="649" width="8" height="42" fill="#b8c3dc"/><rect x="850" y="740" width="8" height="42" fill="#b8c3dc"/><rect x="843" y="831" width="8" height="42" fill="#b8c3dc"/><rect x="814" y="923" width="8" height="42" fill="#b8c3dc"/>
<polyline points="826,668 830,650 834,690 838,670" fill="none" stroke="#2f5fa6" stroke-width="1.5"/>
<g fill="none" stroke="#9b5fc0" stroke-width="1.4"><polyline points="958,657 965,682 970,662 976,688 982,654 988,684 994,666 1000,686 1008,658 1014,680 1020,668 1026,688 1034,662 1040,680"/><polyline points="958,748 965,773 970,753 976,779 982,745 988,775 994,757 1000,777 1008,749 1014,771 1020,759 1026,779 1034,753 1040,771"/><polyline points="958,840 965,865 970,845 976,871 982,837 988,867 994,849 1000,869 1008,841 1014,863 1020,851 1026,871 1034,845 1040,863"/><polyline points="958,932 965,957 970,937 976,963 982,929 988,959 994,941 1000,961 1008,933 1014,955 1020,943 1026,963 1034,937 1040,955"/></g>
<g stroke="#333"><path d="M958,647V691M958,738V782M958,830V874M958,922V966"/></g>
<g font-size="9" fill="#222"><text x="710" y="701">2.0</text><text x="795" y="701">2.5</text><text x="855" y="701">3.0</text><text x="932" y="701">3.5</text><text x="820" y="712" font-size="10">time [s]</text>
<text x="700" y="792">1.5</text><text x="790" y="792">2.0</text><text x="880" y="792">2.5</text><text x="1002" y="792">3.0</text><text x="820" y="803" font-size="10">time [s]</text>
<text x="652" y="884">2.0</text><text x="722" y="884">2.5</text><text x="808" y="884">3.0</text><text x="878" y="884">3.5</text><text x="948" y="884">4.0</text><text x="820" y="901" font-size="10">time [s]</text>
<text x="665" y="976">1.0</text><text x="745" y="976">1.5</text><text x="820" y="976">2.0</text><text x="985" y="976">2.5</text><text x="820" y="992" font-size="10">time [s]</text></g>
<g font-size="14" font-weight="bold"><text x="651" y="1015" fill="#999">adapter</text><text x="720" y="1015" fill="#2f5fa6">mΨCmΨAG</text><text x="822" y="1015" fill="#62c050">poly(A)</text><text x="895" y="1015" fill="#9b5fc0">transcript body</text></g>

<!-- panel i -->
<text x="315" y="1063" font-size="11">mBMDMs with BNT162b2</text>
<g transform="translate(0,1077) scale(1,0.8) translate(0,-1077)">
<rect x="345" y="1077" width="120" height="96" fill="#f6dfe1"/><rect x="465" y="1077" width="105" height="96" fill="#e0e5f3"/>
<rect x="345" y="1077" width="225" height="96" fill="none" stroke="#222"/>
<path d="M345,1166 C380,1166 420,1170 440,1150 C455,1120 458,1082 463,1080 C470,1085 480,1120 500,1145 C520,1160 545,1160 570,1170" fill="none" stroke="#aaa" stroke-width="2.5"/>
<path d="M345,1166 C380,1166 420,1170 440,1150 C455,1120 458,1082 463,1080 C470,1085 485,1120 505,1142 C525,1155 548,1160 570,1168" fill="none" stroke="#666" stroke-width="2.5"/>
<path d="M345,1164 C380,1164 420,1170 440,1150 C455,1120 458,1082 463,1079 C470,1082 490,1120 510,1140 C530,1152 550,1156 570,1166" fill="none" stroke="#000" stroke-width="2.5"/>
<line x1="468" y1="1077" x2="468" y2="1173" stroke="#000" stroke-dasharray="6,4" stroke-width="1.5"/>
</g>
<g font-size="10"><rect x="530" y="1082" width="10" height="10" fill="#bbb"/><text x="543" y="1091">0h</text><rect x="530" y="1095" width="10" height="10" fill="#666"/><text x="543" y="1104">12h</text><rect x="530" y="1108" width="10" height="10" fill="#000"/><text x="543" y="1117">24h</text></g>
<g font-size="9" text-anchor="end"><text x="341" y="1083">1.00</text><text x="341" y="1102">0.75</text><text x="341" y="1121">0.50</text><text x="341" y="1140">0.25</text><text x="341" y="1157">0.00</text></g>
<g font-size="9" text-anchor="middle"><text x="355" y="1166">0</text><text x="407" y="1166">50</text><text x="459" y="1166">100</text><text x="510" y="1166">150</text><text x="560" y="1166">200</text></g>
<text x="452" y="1179" font-size="11" text-anchor="middle">poly(A) length</text>
<text transform="translate(322,1115) rotate(-90)" font-size="10" text-anchor="middle">scaled density</text>
<line x1="372" y1="1195" x2="460" y2="1195" stroke="#d22"/><polyline points="378,1191 372,1195 378,1199" fill="none" stroke="#d22"/><text x="382" y="1192" font-size="10" fill="#d22">deadenylation</text>
<line x1="465" y1="1195" x2="557" y2="1195" stroke="#2a4fa0"/><polyline points="551,1191 557,1195 551,1199" fill="none" stroke="#2a4fa0"/><text x="468" y="1192" font-size="10" fill="#2a4fa0">re-adenylation</text>

<!-- panel j -->
<g font-size="13" font-weight="bold"><text x="713" y="1062">mRNA-1273</text><text x="872" y="1062">BNT162b2</text></g>
<g font-size="11" text-anchor="middle"><text x="694" y="1082">0</text><text x="718" y="1082">4</text><text x="742" y="1082">12</text><text x="766" y="1082">24</text><text x="790" y="1082">48</text><text x="814" y="1082">72</text><text x="848" y="1082">0</text><text x="872" y="1082">4</text><text x="896" y="1082">12</text><text x="920" y="1082">24</text><text x="944" y="1082">48</text><text x="968" y="1082">72</text><text x="1002" y="1082">[h]</text></g>
<rect x="680" y="1088" width="310" height="72" fill="#fbfbfb"/><rect x="680" y="1160" width="310" height="27" fill="#eaeaea"/><rect x="680" y="1187" width="310" height="32" fill="#eaeaea"/><rect x="680" y="1219" width="310" height="85" fill="#cdbfb5"/>
<g fill="#111" filter="url(#bl)">
<ellipse cx="742" cy="1122" rx="9" ry="3" opacity="0.7"/><ellipse cx="766" cy="1122" rx="10" ry="4"/><ellipse cx="766" cy="1100" rx="9" ry="4" opacity="0.6"/><ellipse cx="790" cy="1124" rx="9" ry="2" opacity="0.5"/>
<ellipse cx="742" cy="1145" rx="11" ry="7"/><ellipse cx="766" cy="1145" rx="11" ry="9"/><ellipse cx="790" cy="1145" rx="10" ry="5"/><ellipse cx="814" cy="1145" rx="10" ry="4" opacity="0.7"/>
<ellipse cx="896" cy="1122" rx="10" ry="3"/><ellipse cx="920" cy="1122" rx="10" ry="3"/><ellipse cx="944" cy="1122" rx="9" ry="3"/><ellipse cx="968" cy="1124" rx="9" ry="2" opacity="0.6"/><ellipse cx="920" cy="1143" rx="10" ry="4" opacity="0.6"/><ellipse cx="944" cy="1143" rx="9" ry="3" opacity="0.4"/>
<ellipse cx="694" cy="1173" rx="10" ry="4"/><ellipse cx="718" cy="1173" rx="10" ry="4"/><ellipse cx="742" cy="1173" rx="10" ry="4"/><ellipse cx="766" cy="1173" rx="10" ry="4"/><ellipse cx="790" cy="1173" rx="10" ry="4"/><ellipse cx="814" cy="1173" rx="10" ry="3"/><ellipse cx="848" cy="1173" rx="10" ry="4"/><ellipse cx="872" cy="1173" rx="10" ry="4"/><ellipse cx="896" cy="1173" rx="10" ry="4"/><ellipse cx="920" cy="1173" rx="10" ry="4"/><ellipse cx="944" cy="1173" rx="10" ry="3"/><ellipse cx="968" cy="1173" rx="10" ry="2"/>
<ellipse cx="694" cy="1202" rx="10" ry="4"/><ellipse cx="718" cy="1202" rx="10" ry="4"/><ellipse cx="742" cy="1202" rx="10" ry="4"/><ellipse cx="766" cy="1202" rx="10" ry="4"/><ellipse cx="790" cy="1202" rx="10" ry="4"/><ellipse cx="814" cy="1202" rx="10" ry="4"/><ellipse cx="848" cy="1202" rx="10" ry="4"/><ellipse cx="872" cy="1202" rx="10" ry="4"/><ellipse cx="896" cy="1202" rx="10" ry="4"/><ellipse cx="920" cy="1202" rx="10" ry="4"/><ellipse cx="944" cy="1202" rx="10" ry="4"/><ellipse cx="968" cy="1202" rx="10" ry="4"/></g>
<g fill="#c04a6a" opacity="0.6" filter="url(#bl2)"><rect x="684" y="1270" width="300" height="6"/><rect x="684" y="1295" width="300" height="6"/></g>
<g stroke="#222" fill="none"><rect x="680" y="1088" width="150" height="216"/><rect x="832" y="1088" width="158" height="216"/><path d="M680,1160H990M680,1187H990M680,1219H990"/></g>
<g font-size="10"><text x="992" y="1103">-170 kDa</text><text x="992" y="1124">-130 kDa</text><text x="992" y="1146">-100 kDa</text><text x="992" y="1177">-40 kDa</text><text x="992" y="1205">-35 kDa</text><text x="992" y="1236">-55 kDa</text><text x="992" y="1275">-40 kDa</text></g>
<g font-size="12"><text x="636" y="1128">SPIKE</text><text x="632" y="1153">*</text><text x="636" y="1177">β-actin</text><text x="636" y="1206">GAPDH</text></g>
<g font-size="11" text-anchor="middle"><text x="694" y="1318">1</text><text x="718" y="1318">2</text><text x="742" y="1318">3</text><text x="766" y="1318">4</text><text x="790" y="1318">5</text><text x="814" y="1318">6</text><text x="848" y="1318">1</text><text x="872" y="1318">2</text><text x="896" y="1318">3</text><text x="920" y="1318">4</text><text x="944" y="1318">5</text><text x="968" y="1318">6</text></g>
<rect x="698" y="1328" width="130" height="44" fill="none" stroke="#222"/><rect x="866" y="1328" width="118" height="44" fill="none" stroke="#222"/>
<path d="M700,1345 C720,1335 740,1335 760,1345 C780,1355 800,1360 825,1362" fill="none" stroke="#3a64a8" stroke-width="1.3"/>
<path d="M870,1358 C890,1345 910,1342 930,1348 C950,1352 965,1356 980,1354" fill="none" stroke="#3a64a8" stroke-width="1.3"/>
<g fill="#111"><circle cx="704" cy="1336" r="1.8"/><circle cx="720" cy="1340" r="1.8"/><circle cx="740" cy="1333" r="1.8"/><circle cx="755" cy="1346" r="1.8"/><circle cx="775" cy="1352" r="1.8"/><circle cx="795" cy="1358" r="1.8"/><circle cx="815" cy="1362" r="1.8"/><circle cx="880" cy="1355" r="1.8"/><circle cx="900" cy="1345" r="1.8"/><circle cx="920" cy="1335" r="1.8"/><circle cx="945" cy="1350" r="1.8"/><circle cx="968" cy="1357" r="1.8"/></g>
<g font-size="9" text-anchor="end"><text x="694" y="1337">1.5</text><text x="694" y="1352">1.0</text><text x="694" y="1366">0.5</text></g>
<text transform="translate(670,1350) rotate(-90)" font-size="8" text-anchor="middle">pixel intensity</text><text transform="translate(680,1350) rotate(-90)" font-size="8" text-anchor="middle">Spike/β-actin</text>

<!-- panel k -->
<text x="318" y="1267" font-size="11">mBMDMs with varying amounts of mRNA</text>
<text x="405" y="1289" font-size="11" text-anchor="middle">mRNA-1273</text><text x="542" y="1289" font-size="11" text-anchor="middle">BNT162b2</text>
<g stroke="#e6e6e6" stroke-width="0.8"><path d="M340,1310H610M340,1340H610M340,1370H610M340,1395H610M340,1430H610M340,1455H610M340,1480H610M340,1505H610M340,1532H610M343,1297V1540M353,1297V1540M363,1297V1540M403,1297V1540M433,1297V1540M463,1297V1540M478,1297V1540M488,1297V1540M498,1297V1540M538,1297V1540M568,1297V1540M600,1297V1540"/></g>
<g fill="none" stroke="#222"><rect x="340" y="1297" width="133" height="120"/><rect x="475" y="1297" width="135" height="120"/><rect x="340" y="1420" width="133" height="120"/><rect x="475" y="1420" width="135" height="120"/></g>
<g font-size="9" text-anchor="end"><text x="336" y="1333">1000</text><text x="336" y="1364">500</text><text x="336" y="1396">0</text><text x="336" y="1433">2000</text><text x="336" y="1458">1500</text><text x="336" y="1483">1000</text><text x="336" y="1508">500</text><text x="336" y="1535">0</text></g>
<g font-size="9" text-anchor="middle"><text x="343" y="1550">0</text><text x="353" y="1550">1</text><text x="363" y="1550">2</text><text x="403" y="1550">5</text><text x="433" y="1550">7.5</text><text x="463" y="1550">10</text><text x="478" y="1550">0</text><text x="488" y="1550">1</text><text x="498" y="1550">2</text><text x="538" y="1550">5</text><text x="568" y="1550">7.5</text><text x="600" y="1550">10</text></g>
<text x="475" y="1563" font-size="11" text-anchor="middle">amount of RNA [μg]</text>
<text transform="translate(318,1420) rotate(-90)" font-size="11" text-anchor="middle">Spike protein levels [pg/ml]</text>
<text transform="translate(615,1355) rotate(90)" font-size="10" text-anchor="middle">24h</text><text transform="translate(615,1478) rotate(90)" font-size="10" text-anchor="middle">48h</text>
<g fill="#111"><circle cx="343" cy="1368" r="2.5"/><circle cx="345" cy="1340" r="2.5"/><circle cx="348" cy="1336" r="2.5"/><circle cx="350" cy="1330" r="2.5"/><circle cx="353" cy="1340" r="2.5"/><circle cx="355" cy="1332" r="2.5"/><circle cx="367" cy="1320" r="2.5"/><circle cx="367" cy="1324" r="2.5"/><circle cx="403" cy="1299" r="2.5"/><circle cx="433" cy="1312" r="2.5"/><circle cx="433" cy="1316" r="2.5"/><circle cx="463" cy="1307" r="2.5"/><circle cx="463" cy="1311" r="2.5"/>
<circle cx="478" cy="1394" r="2.5"/><circle cx="481" cy="1390" r="2.5"/><circle cx="484" cy="1385" r="2.5"/><circle cx="488" cy="1380" r="2.5"/><circle cx="490" cy="1376" r="2.5"/><circle cx="506" cy="1364" r="2.5"/><circle cx="506" cy="1368" r="2.5"/><circle cx="541" cy="1361" r="2.5"/><circle cx="541" cy="1364" r="2.5"/><circle cx="573" cy="1364" r="2.5"/><circle cx="573" cy="1368" r="2.5"/><circle cx="604" cy="1363" r="2.5"/><circle cx="604" cy="1367" r="2.5"/>
<circle cx="343" cy="1502" r="2.5"/><circle cx="343" cy="1497" r="2.5"/><circle cx="345" cy="1470" r="2.5"/><circle cx="348" cy="1460" r="2.5"/><circle cx="353" cy="1465" r="2.5"/><circle cx="355" cy="1460" r="2.5"/><circle cx="367" cy="1450" r="2.5"/><circle cx="367" cy="1455" r="2.5"/><circle cx="403" cy="1430" r="2.5"/><circle cx="403" cy="1438" r="2.5"/><circle cx="433" cy="1435" r="2.5"/><circle cx="463" cy="1425" r="2.5"/><circle cx="463" cy="1431" r="2.5"/>
<circle cx="478" cy="1532" r="2.5"/><circle cx="481" cy="1528" r="2.5"/><circle cx="484" cy="1522" r="2.5"/><circle cx="488" cy="1515" r="2.5"/><circle cx="490" cy="1512" r="2.5"/><circle cx="506" cy="1487" r="2.5"/><circle cx="506" cy="1491" r="2.5"/><circle cx="541" cy="1484" r="2.5"/><circle cx="541" cy="1487" r="2.5"/><circle cx="573" cy="1487" r="2.5"/><circle cx="573" cy="1490" r="2.5"/><circle cx="604" cy="1485" r="2.5"/><circle cx="604" cy="1489" r="2.5"/></g>
<g stroke="#e00" stroke-width="1.3"><path d="M340,1354H346M401,1299H406M431,1314H436M461,1309H466M365,1322H370M401,1427H406M461,1428H466M504,1366H509M539,1362H544M571,1366H576M602,1365H607"/></g>
</svg>
</body></html>
